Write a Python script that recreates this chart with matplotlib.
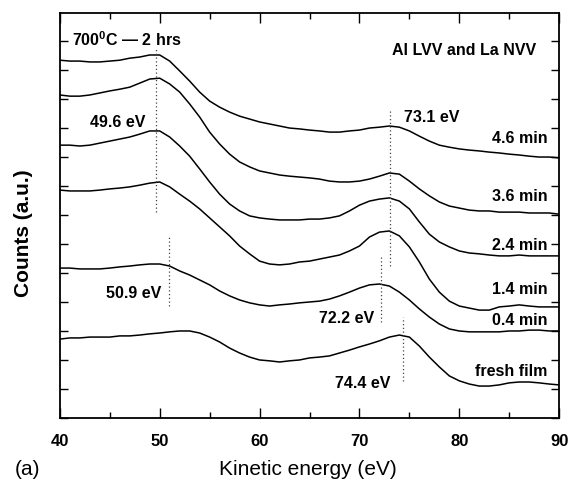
import numpy as np
import matplotlib
matplotlib.use('Agg')
import matplotlib.pyplot as plt
from matplotlib.ticker import MultipleLocator, NullFormatter

plt.rcParams['font.family'] = ['Liberation Sans', 'DejaVu Sans']
plt.rcParams['mathtext.fontset'] = 'custom'
plt.rcParams['mathtext.rm'] = 'Liberation Sans'
plt.rcParams['mathtext.bf'] = 'Liberation Sans:bold'

# kinetic energy grid (eV)
energy = np.arange(40, 91)

# offset spectra (a.u.), top to bottom
c_46 = [12.34, 12.31, 12.31, 12.28, 12.28, 12.31, 12.34, 12.41, 12.45, 12.52,
        12.52, 12.31, 11.97, 11.62, 11.24, 10.93, 10.72, 10.55, 10.41, 10.31,
        10.21, 10.14, 10.07, 10.00, 9.97, 9.93, 9.90, 9.86, 9.86, 9.90,
        9.93, 10.00, 10.03, 10.07, 10.03, 9.90, 9.72, 9.55, 9.41, 9.34,
        9.28, 9.24, 9.21, 9.17, 9.14, 9.10, 9.07, 9.03, 9.00, 9.00, 8.97]
c_36 = [11.14, 11.10, 11.10, 11.14, 11.21, 11.28, 11.34, 11.41, 11.55, 11.69,
        11.72, 11.52, 11.24, 10.83, 10.38, 9.86, 9.45, 9.10, 8.83, 8.66,
        8.52, 8.45, 8.38, 8.34, 8.31, 8.28, 8.24, 8.17, 8.14, 8.14,
        8.17, 8.24, 8.34, 8.45, 8.41, 8.17, 7.90, 7.66, 7.45, 7.31,
        7.24, 7.17, 7.14, 7.14, 7.10, 7.10, 7.10, 7.07, 7.07, 7.07, 7.03]
c_24 = [9.41, 9.41, 9.38, 9.41, 9.48, 9.55, 9.62, 9.69, 9.79, 9.90,
        9.90, 9.69, 9.38, 9.03, 8.59, 8.14, 7.72, 7.38, 7.14, 6.97,
        6.90, 6.86, 6.83, 6.83, 6.83, 6.86, 6.86, 6.90, 6.97, 7.14,
        7.34, 7.48, 7.55, 7.59, 7.48, 7.21, 6.76, 6.34, 6.07, 5.90,
        5.76, 5.69, 5.66, 5.62, 5.59, 5.59, 5.62, 5.59, 5.59, 5.59, 5.59]
c_14 = [7.86, 7.83, 7.83, 7.83, 7.86, 7.90, 7.93, 7.97, 8.03, 8.10,
        8.14, 7.97, 7.72, 7.48, 7.21, 6.90, 6.59, 6.28, 5.93, 5.66,
        5.41, 5.31, 5.28, 5.31, 5.38, 5.41, 5.48, 5.55, 5.62, 5.76,
        5.93, 6.24, 6.41, 6.45, 6.28, 5.90, 5.38, 4.79, 4.34, 4.03,
        3.86, 3.79, 3.72, 3.72, 3.83, 3.86, 3.90, 3.86, 3.83, 3.83, 3.83]
c_04 = [5.17, 5.17, 5.14, 5.14, 5.14, 5.17, 5.21, 5.24, 5.28, 5.31,
        5.31, 5.24, 5.07, 4.93, 4.76, 4.59, 4.38, 4.21, 4.07, 3.97,
        3.90, 3.86, 3.90, 3.93, 3.97, 4.00, 4.03, 4.10, 4.21, 4.34,
        4.48, 4.59, 4.62, 4.55, 4.34, 4.07, 3.76, 3.48, 3.24, 3.07,
        3.00, 2.97, 2.97, 2.97, 2.97, 3.00, 3.00, 3.03, 3.03, 3.00, 3.00]
c_fresh = [2.72, 2.76, 2.76, 2.79, 2.79, 2.79, 2.83, 2.83, 2.86, 2.90,
           2.93, 2.97, 3.00, 3.00, 2.93, 2.79, 2.62, 2.41, 2.24, 2.10,
           2.00, 1.97, 1.93, 1.97, 2.00, 2.07, 2.10, 2.14, 2.24, 2.34,
           2.45, 2.55, 2.66, 2.79, 2.86, 2.79, 2.48, 2.10, 1.76, 1.45,
           1.28, 1.17, 1.10, 1.10, 1.14, 1.21, 1.24, 1.24, 1.21, 1.17, 1.14]

spectra = [c_46, c_36, c_24, c_14, c_04, c_fresh]
time_labels = ['4.6 min', '3.6 min', '2.4 min', '1.4 min', '0.4 min', 'fresh film']
label_y = [9.69, 7.69, 6.00, 4.45, 3.41, 1.62]

# peak markers: energy, dotted line extent, label text and position
peak_e = [49.6, 50.9, 73.1, 72.2, 74.4]
peak_ymin = [7.10, 3.86, 5.24, 3.31, 1.28]
peak_ymax = [12.72, 6.24, 10.66, 5.55, 3.48]
peak_text = ['49.6 eV', '50.9 eV', '73.1 eV', '72.2 eV', '74.4 eV']
peak_tx = [45.75, 47.35, 77.2, 68.7, 70.35]
peak_ty = [10.24, 4.34, 10.41, 3.48, 1.24]

fig = plt.figure(figsize=(5.7, 4.81), dpi=100)
ax = fig.add_axes([0.105, 0.129, 0.876, 0.842])

for s in spectra:
    ax.plot(energy, s, color='black', lw=1.1)

for e, y0, y1 in zip(peak_e, peak_ymin, peak_ymax):
    ax.plot([e, e], [y0, y1], color='#444444', lw=0.9, linestyle=(0, (1, 2)))

for t, x, y in zip(peak_text, peak_tx, peak_ty):
    ax.text(x, y, t, ha='center', va='center', fontsize=11.5, fontweight='bold')

for t, y in zip(time_labels, label_y):
    ax.text(88.8, y, t, ha='right', va='center', fontsize=11.5, fontweight='bold')

ax.text(41.2, 13.07, r'700$^{\mathbf{0}}$C — 2 hrs', ha='left', va='center',
        fontsize=11.5, fontweight='bold')
ax.text(87.7, 12.72, 'Al LVV and La NVV', ha='right', va='center',
        fontsize=11.5, fontweight='bold')

ax.set_xlim(40, 90)
ax.set_ylim(0, 13.97)
ax.xaxis.set_major_locator(MultipleLocator(10))
ax.xaxis.set_minor_locator(MultipleLocator(5))
ax.yaxis.set_major_locator(MultipleLocator(1))
ax.yaxis.set_major_formatter(NullFormatter())
ax.tick_params(axis='both', which='both', direction='in', top=True, right=True)
ax.tick_params(axis='x', which='major', length=7, width=1, labelsize=12, pad=11)
ax.tick_params(axis='x', which='minor', length=4, width=1)
ax.tick_params(axis='y', which='major', length=6, width=1)
for lab in ax.get_xticklabels():
    lab.set_fontweight('bold')
for sp in ax.spines.values():
    sp.set_linewidth(1.3)

fig.text(0.54, 0.012, 'Kinetic energy (eV)', ha='center', va='baseline', fontsize=15)
fig.text(0.026, 0.012, '(a)', ha='left', va='baseline', fontsize=15)
fig.text(0.042, 0.516, 'Counts (a.u.)', ha='center', va='center', rotation=90,
         fontsize=15, fontweight='bold')

fig.savefig('out.png', dpi=100)
